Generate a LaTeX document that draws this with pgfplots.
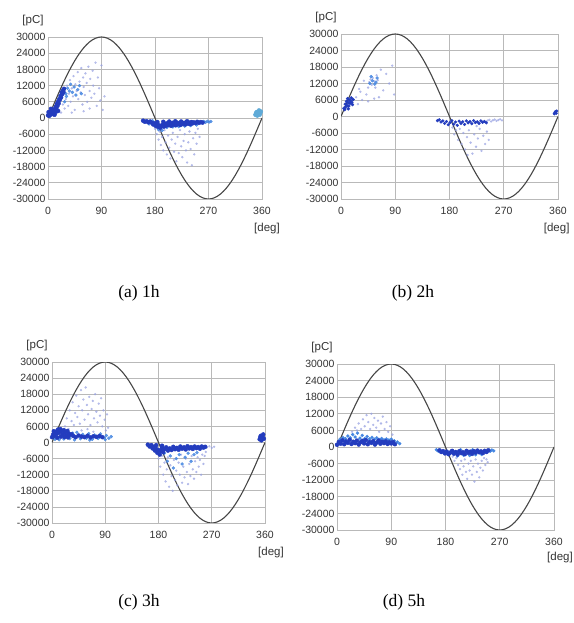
\documentclass[border=0pt]{standalone}
\usepackage{pgfplots}
\pgfplotsset{compat=1.18}
\usepackage{pgfplotstable}
\usepackage{fontspec}
\setmainfont{Liberation Serif}
\newfontfamily\tickfont{Liberation Sans}

\pgfplotstableread{
x y
0 0
5 2615
10 5209
15 7765
20 10261
25 12679
30 15000
35 17207
40 19284
45 21213
50 22981
55 24575
60 25981
65 27189
70 28191
75 28978
80 29544
85 29886
90 30000
95 29886
100 29544
105 28978
110 28191
115 27189
120 25981
125 24575
130 22981
135 21213
140 19284
145 17207
150 15000
155 12679
160 10261
165 7765
170 5209
175 2615
180 0
185 -2615
190 -5209
195 -7765
200 -10261
205 -12679
210 -15000
215 -17207
220 -19284
225 -21213
230 -22981
235 -24575
240 -25981
245 -27189
250 -28191
255 -28978
260 -29544
265 -29886
270 -30000
275 -29886
280 -29544
285 -28978
290 -28191
295 -27189
300 -25981
305 -24575
310 -22981
315 -21213
320 -19284
325 -17207
330 -15000
335 -12679
340 -10261
345 -7765
350 -5209
355 -2615
360 0
}\sinetable

\definecolor{darkpd}{RGB}{35,60,190}
\definecolor{medpd}{RGB}{70,135,225}
\definecolor{lightpd}{RGB}{150,160,225}
\definecolor{tealpd}{RGB}{95,170,215}
\definecolor{gridc}{RGB}{185,185,185}
\definecolor{sinec}{RGB}{70,70,70}

\tikzset{pc/.style={font=\tickfont\fontsize{11.5}{11.5}\selectfont, text=black!80}}

\pgfplotsset{prpd/.style={
  scale only axis, anchor=south west,
  xmin=0, xmax=360, ymin=-30000, ymax=30000,
  scaled y ticks=false, scaled x ticks=false,
  xtick={0,90,180,270,360}, xticklabels={0,90,180,270,360},
  ytick={-30000,-24000,-18000,-12000,-6000,0,6000,12000,18000,24000,30000},
  yticklabels={-30000,-24000,-18000,-12000,-6000,0,6000,12000,18000,24000,30000},
  grid=major, major grid style={gridc, line width=0.7pt},
  axis line style={gridc, line width=0.7pt},
  major tick length=0pt,
  tick label style={font=\tickfont\fontsize{10.5}{10.5}\selectfont, text=black!80},
  xticklabel style={yshift=-5pt},
  yticklabel style={xshift=1pt},
},
sine/.style={sinec, line width=1.1pt},
dk/.style={only marks, mark=*, mark size=2.0pt, darkpd},
md/.style={only marks, mark=*, mark size=1.5pt, medpd, opacity=0.85},
lt/.style={only marks, mark=*, mark size=1.0pt, lightpd, opacity=0.6},
tl/.style={only marks, mark=*, mark size=2.0pt, tealpd},
}

\begin{document}
\begin{tikzpicture}
\path[use as bounding box] (0pt,0pt) rectangle (573pt,623pt);

% (a) 1h
\begin{axis}[prpd, name=a, at={(48pt,424pt)}, width=214pt, height=162pt]
\addplot[sine] table {\sinetable};
\addplot[lt] coordinates {(22,2000)(25,5000)(28,3500)(30,7000)(32,12000)(34,4500)(35,9000)(37,14000)(38,6000)(40,11000)(42,8000)(43,15500)(45,3000)(46,12500)(48,10000)(50,17000)(51,7000)(53,13500)(55,9500)(56,18500)(58,5000)(59,15000)(60,11500)(62,8500)(63,16500)(65,13000)(66,6000)(68,19000)(70,10000)(71,14500)(73,7500)(75,17500)(76,12000)(78,9000)(80,20500)(82,4500)(84,15000)(86,11000)(88,6500)(90,19500)(92,3000)(95,8000)(60,2500)(70,3500)(40,2000)};
\addplot[lt] coordinates {(180,-4000)(183,-6000)(186,-8000)(188,-5000)(190,-10000)(192,-7000)(194,-12000)(196,-4500)(198,-9000)(200,-13500)(202,-6500)(204,-11000)(206,-15000)(208,-8000)(210,-5500)(212,-12500)(214,-9500)(216,-16000)(218,-7000)(220,-13000)(222,-4500)(224,-10500)(226,-14500)(228,-8500)(230,-6000)(232,-12000)(234,-16500)(236,-9000)(238,-5000)(240,-11500)(242,-17500)(244,-7500)(246,-13500)(248,-5500)(250,-9500)(252,-4000)(255,-7000)};
\addplot[md] coordinates {(30,9000)(33,11000)(36,10000)(38,12500)(41,9500)(44,11500)(47,8500)(50,10500)(53,12000)(56,9000)(28,6000)(31,8000)(262,-1300)(265,-1600)(268,-1200)(271,-1500)(274,-1300)(170,-2200)(176,-1000)(200,-3500)(210,-3300)(220,-3200)(230,-3000)(240,-2800)(250,-2600)(186,-4300)(192,-4600)};
\addplot[dk] coordinates {(0,1000)(2,800)(3,1800)(4,1200)(5,2400)(6,1500)(7,2800)(8,2000)(9,3200)(10,2400)(11,1200)(12,3000)(13,4200)(14,3500)(15,5200)(16,4500)(17,6000)(18,5400)(19,7000)(20,6800)(21,8200)(22,7600)(23,9400)(24,8800)(25,10200)(26,9600)(27,10800)(1,2200)(5,3400)(9,1400)(13,2200)(17,2600)};
\addplot[dk] coordinates {(160,-1000)(163,-1400)(166,-1200)(169,-1600)(172,-1300)(175,-1800)(177,-2400)(179,-2000)(181,-2900)(183,-2400)(185,-3300)(187,-2700)(189,-3600)(191,-3000)(193,-2500)(195,-3200)(197,-2200)(199,-2800)(201,-1900)(203,-2600)(205,-2100)(207,-2900)(209,-1800)(211,-2500)(213,-2000)(215,-2700)(217,-1700)(219,-2300)(221,-1900)(223,-2600)(225,-1600)(227,-2200)(229,-1800)(231,-2400)(233,-1500)(235,-2100)(237,-1700)(239,-2300)(241,-1500)(243,-2000)(245,-1600)(248,-1900)(251,-1400)(254,-1800)(257,-1500)(260,-1700)(184,-1500)(194,-1400)(204,-1300)(214,-1200)(224,-1300)(234,-1200)};
\addplot[tl] coordinates {(349,1200)(351,2200)(353,1500)(355,2800)(357,1800)(352,900)(354,2000)(356,1200)(358,2400)(350,1800)};
\end{axis}
\node[pc] at ([xshift=-15pt, yshift=16pt]a.north west) {[pC]};
\node[pc] at ([xshift=5pt, yshift=-30pt]a.south east) {[deg]};

% (b) 2h
\begin{axis}[prpd, name=b, at={(341pt,424pt)}, width=217pt, height=165pt]
\addplot[sine] table {\sinetable};
\addplot[lt] coordinates {(25,7000)(28,4500)(32,9000)(35,6000)(38,13000)(42,8000)(45,10500)(47,12500)(49,13500)(51,11500)(53,14000)(55,12800)(57,10500)(59,15000)(61,13200)(63,7000)(66,17000)(70,9500)(75,15500)(80,12000)(85,18500)(88,8000)(45,5500)(55,6500)(30,10000)};
\addplot[lt] coordinates {(185,-4000)(188,-6500)(191,-5000)(194,-8500)(197,-4500)(200,-10000)(203,-6000)(206,-12000)(209,-7500)(212,-5000)(215,-9500)(218,-13500)(221,-6500)(224,-11000)(227,-8000)(230,-4500)(233,-12500)(236,-7000)(239,-10000)(242,-5500)(245,-8500)(210,-14000)(225,-3500)(243,-1500)(246,-1200)(249,-1800)(252,-1400)(255,-1100)(258,-1600)(261,-1300)(264,-1000)(267,-1400)};
\addplot[md] coordinates {(48,12000)(52,13000)(56,11800)(60,14000)(58,12500)(50,14500)};
\addplot[dk, mark size=1.5pt] coordinates {(5,3000)(7,4500)(8,3500)(9,5500)(10,4000)(11,6500)(12,5000)(13,3800)(14,6000)(15,4800)(16,5600)(17,6800)(18,5200)(19,4300)(20,6200)(6,2500)(12,2800)};
\addplot[dk, mark size=1.4pt] coordinates {(160,-1500)(163,-1200)(166,-2000)(169,-1600)(172,-2500)(175,-1800)(178,-3000)(181,-2200)(184,-1500)(187,-2800)(190,-2000)(193,-3200)(196,-1700)(199,-2500)(202,-1900)(205,-2900)(208,-1600)(211,-2300)(214,-1800)(217,-2600)(220,-1500)(223,-2200)(226,-1900)(229,-2500)(232,-1600)(235,-2100)(238,-1800)(241,-2300)(354,1000)(356,1800)(357,1200)(358,2000)(355,1500)};
\end{axis}
\node[pc] at ([xshift=-15pt, yshift=16pt]b.north west) {[pC]};
\node[pc, anchor=east] at ([xshift=15pt, yshift=-30pt]b.south east) {[deg]};

% (c) 3h
\begin{axis}[prpd, name=c, at={(52pt,100pt)}, width=213pt, height=161pt]
\addplot[sine] table {\sinetable};
\addplot[lt] coordinates {(22,6000)(25,9000)(28,5000)(30,12000)(33,8000)(35,15000)(37,6500)(39,11000)(41,17500)(43,9500)(45,13500)(47,7000)(49,19500)(51,12000)(53,16000)(55,8500)(57,20500)(59,14000)(61,10500)(63,17000)(65,6500)(67,12500)(69,15500)(71,9000)(73,18000)(75,11500)(77,7500)(79,14500)(81,10000)(83,16500)(85,6000)(87,12000)(89,8500)(91,4500)(93,10500)(95,5500)(50,4500)(60,5000)(70,4000)};
\addplot[lt] coordinates {(180,-6000)(183,-9000)(186,-5000)(188,-12000)(190,-7500)(192,-14500)(194,-10000)(196,-5500)(198,-16500)(200,-8500)(202,-12500)(204,-18000)(206,-6500)(208,-14000)(210,-10500)(212,-16000)(214,-7500)(216,-12000)(218,-4500)(220,-15000)(222,-9000)(224,-13000)(226,-6000)(228,-11000)(230,-15500)(232,-8000)(234,-12500)(236,-5000)(238,-10000)(240,-13500)(242,-7000)(244,-11000)(246,-5500)(248,-9000)(250,-6500)(252,-12000)(254,-4500)(256,-8000)(258,-5000)(260,-3500)(262,-1800)(266,-1400)(270,-2000)(274,-1600)};
\addplot[md] coordinates {(5,1200)(12,1000)(20,1300)(30,1500)(35,3500)(42,3800)(48,1400)(52,3000)(58,1600)(62,3300)(68,1200)(72,2800)(78,1500)(82,3200)(88,1800)(92,2600)(96,1600)(100,2200)(38,1000)(64,900)(90,1100)(190,-4000)(195,-7000)(200,-5000)(205,-9500)(210,-6000)(215,-4500)(220,-8000)(225,-5500)(230,-4000)(235,-7000)(240,-4500)(245,-3800)};
\addplot[dk] coordinates {(0,2000)(2,3000)(4,2500)(6,4000)(8,3200)(10,4800)(12,3600)(14,5000)(16,4200)(18,3000)(20,4600)(22,3800)(24,2600)(26,4300)(28,3400)(30,2800)(3,4200)(9,1800)(15,2200)(21,2000)(27,1900)(33,3100)(36,2400)(40,2000)(45,2600)(50,2200)(55,2000)(60,2500)(65,1900)(70,2300)(75,2100)(80,2400)(85,2000)};
\addplot[dk] coordinates {(162,-800)(165,-1500)(168,-1000)(170,-2200)(172,-1600)(174,-3000)(176,-2400)(178,-3800)(180,-2800)(182,-4500)(184,-3200)(186,-2000)(188,-3600)(190,-2500)(193,-1800)(196,-3000)(199,-2200)(202,-2800)(205,-1600)(208,-2500)(211,-2000)(214,-2700)(217,-1500)(220,-2300)(223,-1800)(226,-2600)(229,-1400)(232,-2200)(235,-1700)(238,-2400)(241,-1500)(244,-2100)(247,-1700)(250,-2300)(253,-1500)(256,-1900)(259,-1600)(176,-1000)(186,-1200)};
\addplot[dk] coordinates {(351,1200)(353,2500)(355,1600)(357,3000)(352,2000)(356,2200)(358,1400)(354,800)};
\end{axis}
\node[pc] at ([xshift=-15pt, yshift=16pt]c.north west) {[pC]};
\node[pc] at ([xshift=6pt, yshift=-30pt]c.south east) {[deg]};

% (d) 5h
\begin{axis}[prpd, name=d, at={(337pt,93pt)}, width=217pt, height=166pt]
\addplot[sine] table {\sinetable};
\addplot[lt] coordinates {(25,5500)(30,7000)(33,6000)(36,8500)(40,6500)(43,10000)(46,7500)(49,11500)(52,9000)(55,6500)(57,12000)(60,8000)(62,10500)(65,7000)(68,9500)(70,5500)(73,8500)(76,11000)(79,6500)(82,9000)(85,5500)(88,7500)(92,4500)};
\addplot[lt] coordinates {(192,-3500)(195,-5000)(198,-4000)(201,-6500)(204,-8000)(206,-5000)(208,-10000)(210,-7000)(212,-4500)(214,-9000)(216,-11500)(218,-6000)(220,-8500)(222,-5000)(224,-10000)(226,-7000)(228,-12500)(230,-4500)(232,-9000)(234,-6000)(236,-11000)(238,-7500)(240,-5000)(242,-8500)(244,-4000)(246,-6500)(248,-4500)(250,-5500)};
\addplot[md, opacity=1] coordinates {(5,2800)(10,3400)(14,3000)(18,4000)(22,3300)(26,4500)(30,3600)(34,5000)(38,3200)(42,4200)(46,3000)(50,3800)(54,2900)(58,3500)(62,2800)(66,3300)(70,2700)(74,3100)(78,2600)(82,2900)(86,2500)(90,2800)(95,2200)(100,1800)(104,1200)(165,-1000)(168,-1500)(200,-3200)(210,-3000)(220,-3100)(230,-2800)(240,-2700)(254,-1500)(257,-1100)(260,-1400)(205,-1000)(225,-1000)};
\addplot[dk] coordinates {(0,800)(3,1800)(6,1200)(9,2400)(12,1000)(15,2000)(18,1500)(21,2600)(24,1100)(27,1900)(30,1400)(33,2300)(36,900)(39,1700)(42,2200)(45,1300)(48,2500)(51,1000)(54,1800)(57,1500)(60,2100)(63,900)(66,1600)(69,2300)(72,1200)(75,1900)(78,1400)(81,2000)(84,1100)(87,1700)(90,1300)(93,1800)(96,1000)};
\addplot[dk] coordinates {(170,-1200)(173,-1800)(176,-1500)(179,-2300)(182,-1700)(185,-2600)(188,-2000)(191,-1400)(194,-2400)(197,-1800)(200,-2700)(203,-1500)(206,-2200)(209,-1900)(212,-2600)(215,-1400)(218,-2100)(221,-1700)(224,-2500)(227,-1500)(230,-2000)(233,-1300)(236,-1900)(239,-1600)(242,-2200)(245,-1400)(248,-1800)(251,-1200)};
\end{axis}
\node[pc] at ([xshift=-15pt, yshift=16pt]d.north west) {[pC]};
\node[pc] at ([xshift=6pt, yshift=-28pt]d.south east) {[deg]};

\node[font=\fontsize{17.5}{17.5}\selectfont] at (139pt,330pt) {(a) 1h};
\node[font=\fontsize{17.5}{17.5}\selectfont] at (413pt,330pt) {(b) 2h};
\node[font=\fontsize{17.5}{17.5}\selectfont] at (139pt,21pt) {(c) 3h};
\node[font=\fontsize{17.5}{17.5}\selectfont] at (404pt,21pt) {(d) 5h};
\end{tikzpicture}
\end{document}
